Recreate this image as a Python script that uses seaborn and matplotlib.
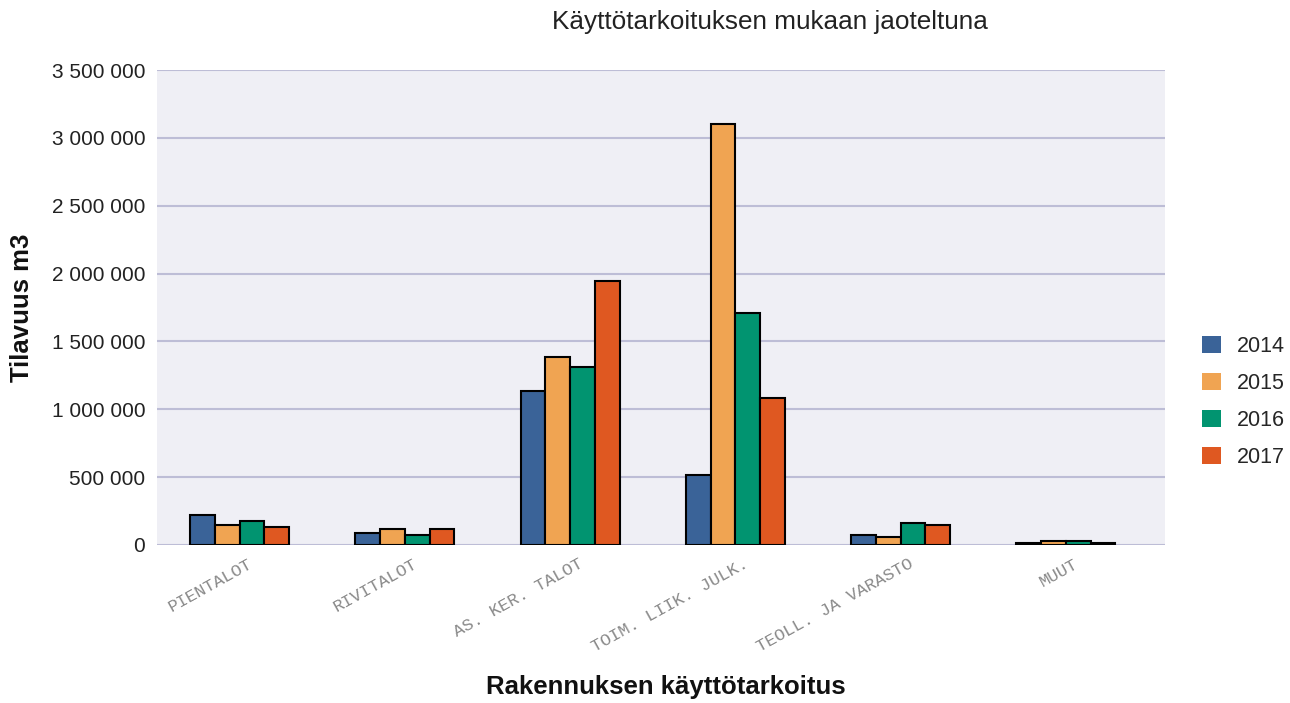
import numpy as np
import pandas as pd
import matplotlib
matplotlib.use("Agg")
import matplotlib.pyplot as plt
import matplotlib.transforms as mtransforms
from matplotlib.patches import Patch
from matplotlib.ticker import FuncFormatter
import seaborn as sns

categories = ["PIENTALOT", "RIVITALOT", "AS. KER. TALOT", "TOIM. LIIK. JULK.",
              "TEOLL. JA VARASTO", "MUUT"]
years = ["2014", "2015", "2016", "2017"]
v2014 = [221000, 91000, 1135000, 516000, 74000, 12000]
v2015 = [147000, 118000, 1388000, 3102000, 57000, 27000]
v2016 = [177000, 74000, 1312000, 1712000, 160000, 27000]
v2017 = [130000, 118000, 1948000, 1083000, 147000, 12000]
colors = ["#3a6398", "#f0a452", "#019470", "#df5821"]
yticks = [0, 500000, 1000000, 1500000, 2000000, 2500000, 3000000, 3500000]

rows = []
for yr, vals in zip(years, [v2014, v2015, v2016, v2017]):
    for c, v in zip(categories, vals):
        rows.append({"cat": c, "year": yr, "value": v})
df = pd.DataFrame(rows)

sns.set_theme(style="white")
plt.rcParams["font.family"] = ["Liberation Sans", "DejaVu Sans"]

fig = plt.figure(figsize=(12.9, 7.03), dpi=100)
ax = fig.add_axes([157/1290, 1 - 545/703, (1165-157)/1290, (545-70)/703])
ax.set_facecolor("#efeff5")

sns.barplot(data=df, x="cat", y="value", hue="year", order=categories,
            hue_order=years, palette=colors, width=0.6, saturation=1,
            edgecolor="black", linewidth=1.5, ax=ax, legend=False, zorder=3)

ax.set_ylim(0, 3500000)
ax.set_xlim(-0.5, 5.6)
ax.set_yticks(yticks)
ax.yaxis.set_major_formatter(FuncFormatter(lambda v, p: f"{int(v):,}".replace(",", " ")))
ax.grid(axis="y", color="#bdbdd6", linewidth=1.5, zorder=0)
ax.set_axisbelow(True)
for s in ax.spines.values():
    s.set_visible(False)
ax.tick_params(axis="y", length=0, labelsize=15, labelcolor="#222222", pad=8.5)
ax.tick_params(axis="x", length=0, pad=8)

offset = mtransforms.ScaledTranslation(8/100, 0, fig.dpi_scale_trans)
for lbl in ax.get_xticklabels():
    lbl.set_rotation(29)
    lbl.set_ha("right")
    lbl.set_va("top")
    lbl.set_rotation_mode("anchor")
    lbl.set_fontfamily(["Liberation Mono", "DejaVu Sans Mono"])
    lbl.set_fontsize(12.5)
    lbl.set_color("#8a8a8a")
    lbl.set_transform(lbl.get_transform() + offset)

ax.set_xlabel("")
ax.set_ylabel("")
fig.text(22/1290, 1 - 308/703, "Tilavuus m3", rotation=90, ha="center", va="center",
         fontsize=18.5, fontweight="bold", color="#111111")
fig.text(666/1290, 1 - 687/703, "Rakennuksen käyttötarkoitus", ha="center", va="center",
         fontsize=18.5, fontweight="bold", color="#111111")
fig.text(770/1290, 1 - 22/703, "Käyttötarkoituksen mukaan jaoteltuna", ha="center",
         va="center", fontsize=18.8, color="#222222")

handles = [Patch(facecolor=c, edgecolor="none") for c in colors]
fig.legend(handles, years, loc="center left", bbox_to_anchor=(1183/1290, 1 - 402/703),
           frameon=False, fontsize=15.5, handlelength=0.85, handleheight=0.85,
           labelspacing=0.75, handletextpad=0.75)

fig.savefig("out.png", dpi=100)
